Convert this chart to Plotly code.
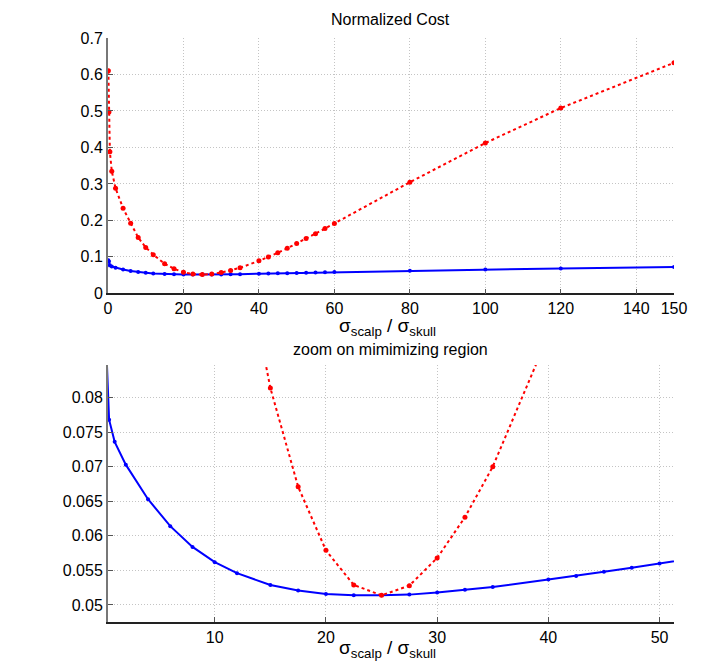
import plotly.graph_objects as go

# ---- data ----
ratio = [0.1, 0.25, 0.5, 1, 2, 4, 6, 8, 10, 12, 15, 17.5, 20, 22.5, 25, 27.5,
         30, 32.5, 35, 40, 42.5, 45, 47.5, 50, 52.5, 55, 57.5, 60, 80, 100, 120, 150]
cost_blue = [0.0905, 0.0870, 0.0768, 0.0736, 0.0703, 0.0653, 0.0614, 0.0584, 0.0562,
             0.0546, 0.0529, 0.0521, 0.0516, 0.0514, 0.0514, 0.0515, 0.0518, 0.0522,
             0.0526, 0.0537, 0.0542, 0.0548, 0.0554, 0.0560, 0.0566, 0.0572, 0.0578,
             0.0584, 0.0620, 0.0653, 0.0683, 0.0722]
cost_red = [0.610, 0.497, 0.388, 0.335, 0.288, 0.233, 0.192, 0.153, 0.126, 0.106,
            0.0814, 0.0671, 0.0579, 0.0529, 0.0514, 0.0528, 0.0568, 0.0627, 0.0700,
            0.0890, 0.0995, 0.111, 0.1235, 0.1365, 0.150, 0.1635, 0.1775, 0.1916,
            0.3046, 0.412, 0.508, 0.632]

top_xticks = [0, 20, 40, 60, 80, 100, 120, 140, 150]
top_yticks = [0, 0.1, 0.2, 0.3, 0.4, 0.5, 0.6, 0.7]
top_ylabels = ["0", "0.1", "0.2", "0.3", "0.4", "0.5", "0.6", "0.7"]
bot_xticks = [10, 20, 30, 40, 50]
bot_yticks = [0.05, 0.055, 0.06, 0.065, 0.07, 0.075, 0.08]
bot_ylabels = ["0.05", "0.055", "0.06", "0.065", "0.07", "0.075", "0.08"]

top_title = "Normalized Cost"
bot_title = "zoom on mimimizing region"
x_label = "σ<sub>scalp</sub> / σ<sub>skull</sub>"

FONT = "Liberation Sans, Arial, Helvetica, sans-serif"
BLUE = "#0000ff"
RED = "#ff0000"

fig = go.Figure()
for xa, ya in [("x", "y"), ("x2", "y2")]:
    fig.add_trace(go.Scatter(x=ratio, y=cost_blue, xaxis=xa, yaxis=ya, mode="lines+markers",
                             line=dict(color=BLUE, width=2),
                             marker=dict(color=BLUE, size=4), showlegend=False))
    fig.add_trace(go.Scatter(x=ratio, y=cost_red, xaxis=xa, yaxis=ya, mode="lines+markers",
                             line=dict(color=RED, width=2, dash="dot"),
                             marker=dict(color=RED, size=5), showlegend=False))

W, H = 702, 663
OFF = 8  # page body offset of the figure
# desired plot-area edges in page pixels
L_PAGE, R_PAGE, T_PAGE, B_PAGE = 107.5, 674, 37.7, 622.3
ml = L_PAGE - OFF
mr = W - (R_PAGE - OFF)
mt = T_PAGE - OFF
mb = H - (B_PAGE - OFF)
ph = B_PAGE - T_PAGE
def py(pix):
    return (B_PAGE - pix) / ph
pw = R_PAGE - L_PAGE
def px(pix):
    return (pix - L_PAGE) / pw

axis_common = dict(showgrid=True, gridcolor="#c4c4c4", griddash="1px,2px", gridwidth=1,
                   zeroline=False, ticks="inside", ticklen=5, tickcolor="#555",
                   tickfont=dict(family=FONT, size=16, color="black"),
                   showline=True, mirror=False)

fig.update_layout(
    width=W, height=H,
    margin=dict(l=ml, r=mr, t=mt, b=mb, autoexpand=False),
    paper_bgcolor="white", plot_bgcolor="white",
    font=dict(family=FONT, color="black"),
    xaxis=dict(domain=[0, 1], range=[0, 150], tickvals=top_xticks, anchor="y",
               linecolor="#222", linewidth=1.5, **axis_common),
    yaxis=dict(domain=[py(293.3), 1], range=[0, 0.7], tickvals=top_yticks,
               ticktext=top_ylabels, anchor="x",
               linecolor="#777", linewidth=2, **axis_common),
    xaxis2=dict(domain=[0, 1], range=[0.4, 51.3], tickvals=bot_xticks, anchor="y2",
                linecolor="#222", linewidth=1.5, **axis_common),
    yaxis2=dict(domain=[0, py(365)], range=[0.04754, 0.08472], tickvals=bot_yticks,
                ticktext=bot_ylabels, anchor="x2",
                linecolor="#777", linewidth=2, **axis_common),
)

ann = [
    dict(text=top_title, x=px(390.5), y=py(19), xref="paper", yref="paper",
         showarrow=False, font=dict(family=FONT, size=16), yanchor="middle"),
    dict(text=bot_title, x=px(390.5), y=py(350), xref="paper", yref="paper",
         showarrow=False, font=dict(family=FONT, size=16), yanchor="middle"),
    dict(text=x_label, x=px(387), y=py(327), xref="paper", yref="paper",
         showarrow=False, font=dict(family=FONT, size=19), yanchor="middle"),
    dict(text=x_label, x=px(387), y=py(649), xref="paper", yref="paper",
         showarrow=False, font=dict(family=FONT, size=19), yanchor="middle"),
]
fig.update_layout(annotations=ann)

fig.write_html("out.html")
